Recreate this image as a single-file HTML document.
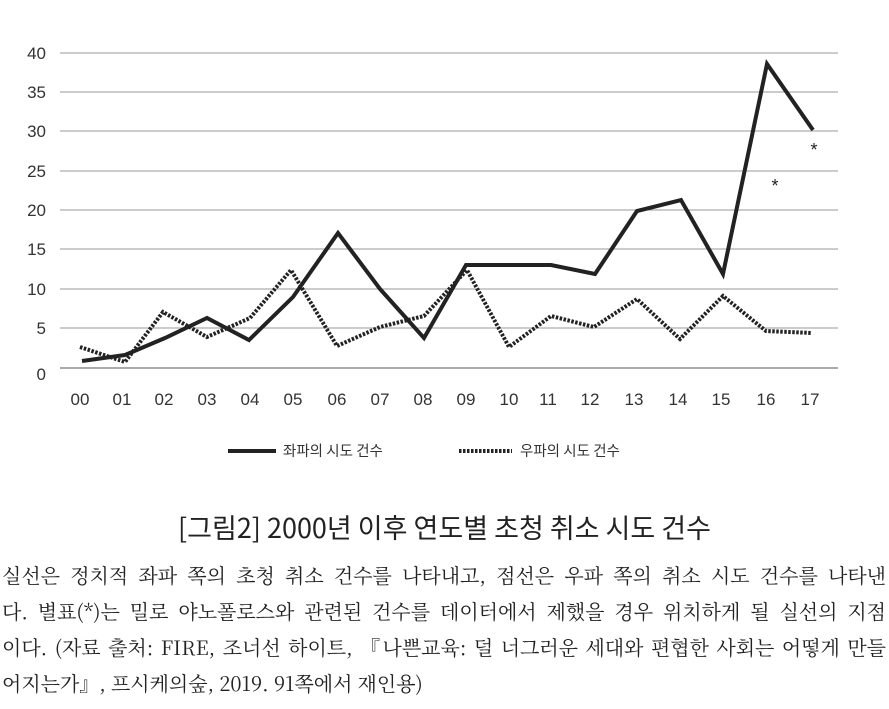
<!DOCTYPE html>
<html><head><meta charset="utf-8"><style>
body{margin:0;width:889px;height:709px;background:#fff;overflow:hidden;font-family:"Liberation Sans","Noto Sans CJK KR",sans-serif;color:#222}
.t{position:absolute;left:0;width:889px;text-align:center;top:507px;font-size:27px;font-family:"Noto Sans CJK KR","Liberation Sans",sans-serif;font-weight:400}
.p{position:absolute;left:2px;width:884px;font-size:20px;font-family:"Noto Serif CJK KR","Noto Serif CJK SC",serif;text-align:justify;text-align-last:justify;white-space:nowrap;line-height:36px}
</style></head><body>
<svg width="889" height="480" style="position:absolute;left:0;top:0">
<g stroke="#999" stroke-width="1">
<line x1="60" x2="838" y1="53" y2="53"/><line x1="60" x2="838" y1="92" y2="92"/><line x1="60" x2="838" y1="131" y2="131"/><line x1="60" x2="838" y1="171" y2="171"/><line x1="60" x2="838" y1="210" y2="210"/><line x1="60" x2="838" y1="249" y2="249"/><line x1="60" x2="838" y1="289" y2="289"/><line x1="60" x2="838" y1="328" y2="328"/><line x1="60" x2="838" y1="368" y2="368" stroke="#555"/>
</g>
<g font-size="17" fill="#333" text-anchor="end">
<text x="46" y="59">40</text><text x="46" y="98">35</text><text x="46" y="137">30</text><text x="46" y="177">25</text><text x="46" y="216">20</text><text x="46" y="255">15</text><text x="46" y="295">10</text><text x="46" y="334">5</text><text x="46" y="380">0</text>
</g>
<g font-size="17" fill="#333" text-anchor="middle">
<text x="80" y="405">00</text><text x="122" y="405">01</text><text x="164" y="405">02</text><text x="207" y="405">03</text><text x="250" y="405">04</text><text x="293" y="405">05</text><text x="337" y="405">06</text><text x="380" y="405">07</text><text x="423" y="405">08</text><text x="466" y="405">09</text><text x="509" y="405">10</text><text x="548" y="405">11</text><text x="590" y="405">12</text><text x="634" y="405">13</text><text x="678" y="405">14</text><text x="721" y="405">15</text><text x="766" y="405">16</text><text x="810" y="405">17</text>
</g>
<polyline fill="none" stroke="#222" stroke-width="4" stroke-linejoin="miter" points="82,361 125,355 165,338 207,318 249,340 293,297 338,233 380,289 424,338 466,265 509,265 551,265 595,274 637,211 681,200 723,274 767,64 813,130"/>
<polyline fill="none" stroke="#222" stroke-width="4" stroke-dasharray="2.5 1.5" points="80,347 125,362 163,312 207,337 250,318 291,270 337,346 380,327 424,316 467,270 509,347 551,316 594,327 637,299 680,339 723,296 766,331 812,333"/>
<text x="775" y="192" font-size="18" text-anchor="middle" fill="#222">*</text>
<text x="814" y="156" font-size="18" text-anchor="middle" fill="#222">*</text>
<line x1="228" x2="276" y1="451" y2="451" stroke="#222" stroke-width="4"/>
<text x="283" y="456" font-size="14.5" fill="#333" font-family="Noto Sans CJK KR,sans-serif">좌파의 시도 건수</text>
<line x1="459" x2="512" y1="451" y2="451" stroke="#222" stroke-width="4" stroke-dasharray="2.5 1.5"/>
<text x="520" y="456" font-size="14.5" fill="#333" font-family="Noto Sans CJK KR,sans-serif">우파의 시도 건수</text>
</svg>
<div class="t">[그림2] 2000년 이후 연도별 초청 취소 시도 건수</div>
<div class="p" style="top:557px">실선은 정치적 좌파 쪽의 초청 취소 건수를 나타내고, 점선은 우파 쪽의 취소 시도 건수를 나타낸</div>
<div class="p" style="top:593px">다. 별표(*)는 밀로 야노폴로스와 관련된 건수를 데이터에서 제했을 경우 위치하게 될 실선의 지점</div>
<div class="p" style="top:629px">이다. (자료 출처: FIRE, 조너선 하이트, 『나쁜교육: 덜 너그러운 세대와 편협한 사회는 어떻게 만들</div>
<div class="p" style="top:665px;text-align-last:left">어지는가』, 프시케의숲, 2019. 91쪽에서 재인용)</div>
</body></html>
